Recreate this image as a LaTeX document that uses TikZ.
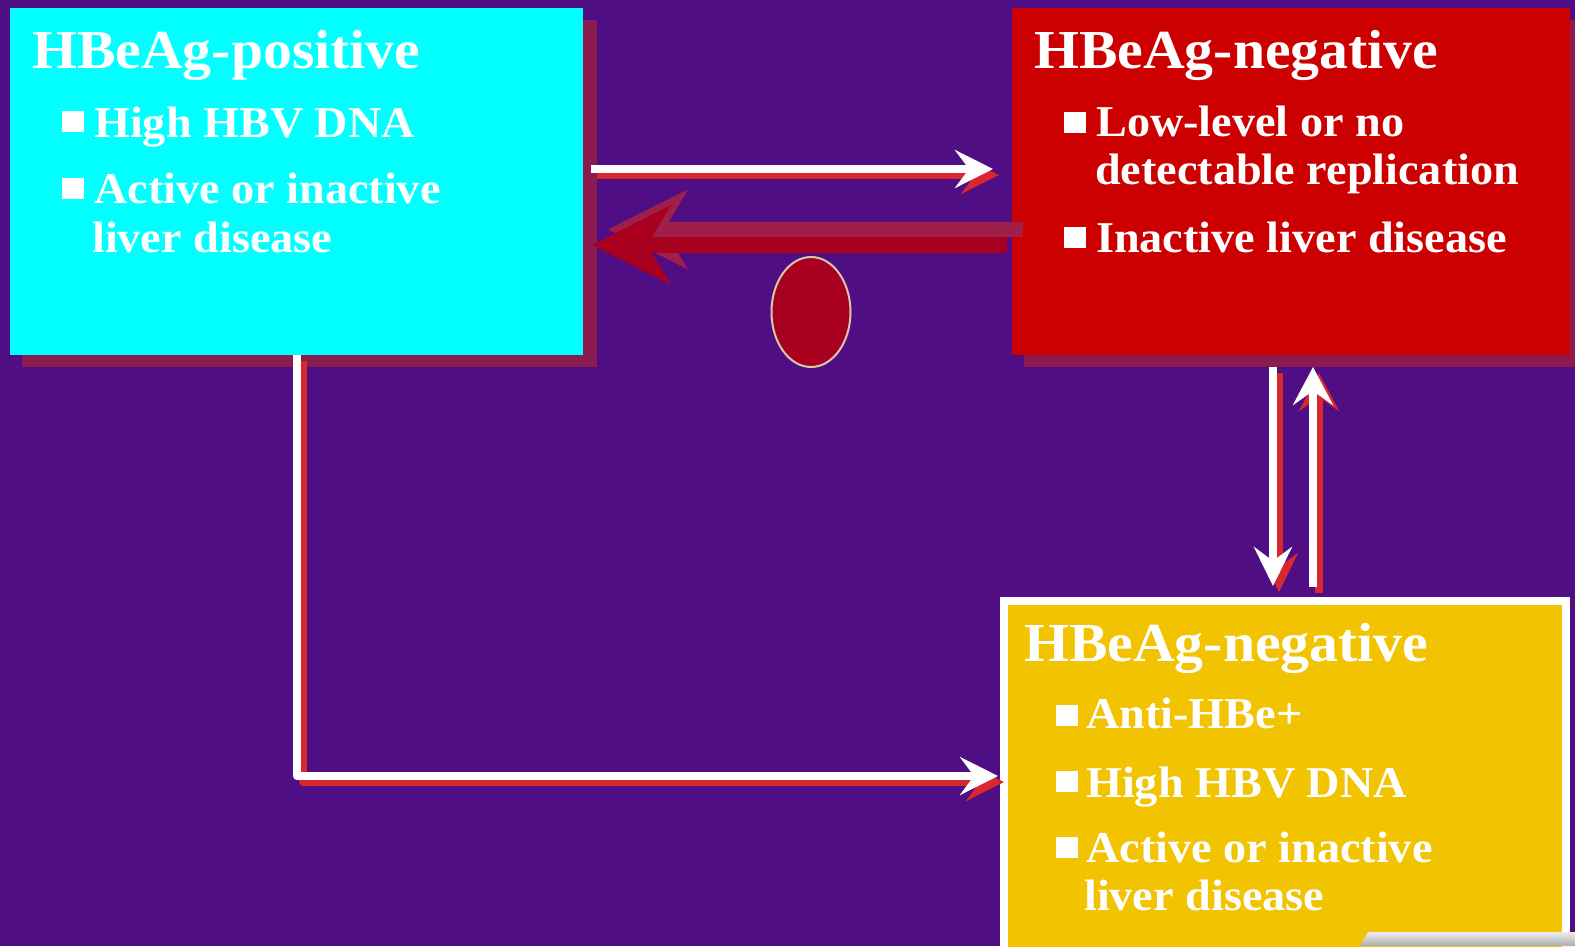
\documentclass[tikz,border=0pt]{standalone}
\usepackage{fontspec}
\setmainfont[FakeStretch=1.05]{Liberation Serif}
\usetikzlibrary{arrows.meta,shapes.geometric,calc}
\definecolor{bgp}{RGB}{80,14,132}
\definecolor{boxshadow}{RGB}{140,28,80}
\definecolor{cyanbox}{RGB}{0,255,255}
\definecolor{redbox}{RGB}{204,0,0}
\definecolor{yelbox}{RGB}{242,195,0}
\definecolor{shred}{RGB}{215,40,45}
\definecolor{darkr}{RGB}{168,0,30}
\definecolor{ghostr}{RGB}{160,30,74}
\definecolor{beige}{RGB}{215,200,170}
\begin{document}
\begin{tikzpicture}[x=1pt,y=-1pt,
  box/.style={rectangle, inner sep=0pt, outer sep=0pt},
  ttl/.style={anchor=base west, inner sep=0pt, text=white, font=\fontsize{55}{60}\selectfont\bfseries},
  itm/.style={anchor=base west, inner sep=0pt, text=white, font=\fontsize{44}{48.5}\selectfont\bfseries},
  sq/.style={rectangle, fill=white, inner sep=0pt, minimum width=22pt, minimum height=21pt},
  wline/.style={draw=white, line width=8pt, line join=round},
  shad/.style={draw=shred, line width=8pt, line join=round, transform canvas={xshift=6pt,yshift=-6pt}},
  wtip/.style={-{Stealth[length=38pt,width=38pt,inset=14pt]}},
  bigtip/.style={-{Stealth[length=78pt,width=78pt,inset=23pt]}},
]
\useasboundingbox (0,0) rectangle (1575,946);
\clip (0,0) rectangle (1575,946);
\fill[bgp] (0,0) rectangle (1575,946);

% box shadows
\fill[boxshadow] (22,20) rectangle (597,367);
\fill[boxshadow] (1024,20) rectangle (1575,367);

% boxes
\node[box, fill=cyanbox, minimum width=573pt, minimum height=347pt] (pos) at (296.5,181.5) {};
\node[box, fill=redbox, minimum width=558pt, minimum height=347pt] (neg) at (1291,181.5) {};
\node[box, fill=yelbox, draw=white, line width=8pt, minimum width=562pt, minimum height=379pt] (neg2) at (1285,790.5) {};

% helper coordinates
\coordinate (yA) at (0,169);
\coordinate (yB) at (0,245);
\coordinate (yG) at (0,229.5);
\coordinate (yL) at (0,776);
\coordinate (xD) at (1273,0);
\coordinate (xU) at (1313,0);

% top arrow pos -> neg
\draw[shad, wtip] ($(pos.east |- yA)+(8,0)$) -- ($(neg.west |- yA)+(-19,0)$);
\draw[wline, wtip] ($(pos.east |- yA)+(8,0)$) -- ($(neg.west |- yA)+(-19,0)$);

% big red arrow neg -> pos (ghost first)
\draw[draw=ghostr, line width=15pt, -{Stealth[length=79pt,width=78pt,inset=23pt]}] ($(neg.west |- yG)+(11,0)$) -- ($(pos.east |- yG)+(25,0)$);
\draw[draw=darkr, line width=16pt, bigtip] ($(neg.west |- yB)+(-5,0)$) -- ($(pos.east |- yB)+(9,0)$);

% ellipse
\node[ellipse, fill=darkr, draw=beige, line width=2pt, minimum width=79pt, minimum height=110pt, inner sep=0pt] (dot) at (811,312) {};

% vertical arrows
\draw[shad, {Stealth[length=39pt,width=38pt,inset=14pt]}-] ($(neg2.north -| xD)+(0,-15)$) -- ($(neg.south -| xD)+(0,12)$);
\draw[wline, {Stealth[length=39pt,width=38pt,inset=14pt]}-] ($(neg2.north -| xD)+(0,-15)$) -- ($(neg.south -| xD)+(0,12)$);
\draw[shad, {Stealth[length=38pt,width=40pt,inset=14pt]}-] ($(neg.south -| xU)+(0,12)$) -- ($(neg2.north -| xU)+(0,-14)$);
\draw[wline, {Stealth[length=38pt,width=40pt,inset=14pt]}-] ($(neg.south -| xU)+(0,12)$) -- ($(neg2.north -| xU)+(0,-14)$);

% L connector pos -> neg2
\draw[shad, wtip] ($(pos.south)+(0.5,0)$) |- ($(neg2.west |- yL)+(-6,0)$);
\draw[wline, wtip] ($(pos.south)+(0.5,0)$) |- ($(neg2.west |- yL)+(-6,0)$);

% texts: HBeAg-positive
\node[ttl] (t1) at (32,68) {HBeAg-positive};
\node[sq] (s11) at (73,121.5) {};
\node[itm] (i11) at (94,137) {High HBV DNA};
\node[sq] (s12) at (73,188.5) {};
\node[itm] (i12a) at (94,203) {Active or inactive};
\node[itm] (i12b) at (92,252) {liver disease};

% HBeAg-negative (red)
\node[ttl] (t2) at (1034,68) {HBeAg-negative};
\node[sq] (s21) at (1075,122) {};
\node[itm] (i21a) at (1096,136) {Low-level or no};
\node[itm] (i21b) at (1095,184) {detectable replication};
\node[sq] (s22) at (1075,237.5) {};
\node[itm] (i22) at (1096,252) {Inactive liver disease};

% HBeAg-negative (yellow)
\node[ttl] (t3) at (1024,661) {HBeAg-negative};
\node[sq] (s31) at (1066.5,715) {};
\node[itm] (i31) at (1086,728) {Anti-HBe+};
\node[sq] (s32) at (1066.5,781) {};
\node[itm] (i32) at (1086,797) {High HBV DNA};
\node[sq] (s33) at (1066.5,847.5) {};
\node[itm] (i33a) at (1086,862) {Active or inactive};
\node[itm] (i33b) at (1084,910) {liver disease};

% grey bar bottom right
\shade[top color=gray!15, bottom color=gray!65] (1360,946) -- (1368,932) -- (1575,932) -- (1575,946) -- cycle;
\end{tikzpicture}
\end{document}
